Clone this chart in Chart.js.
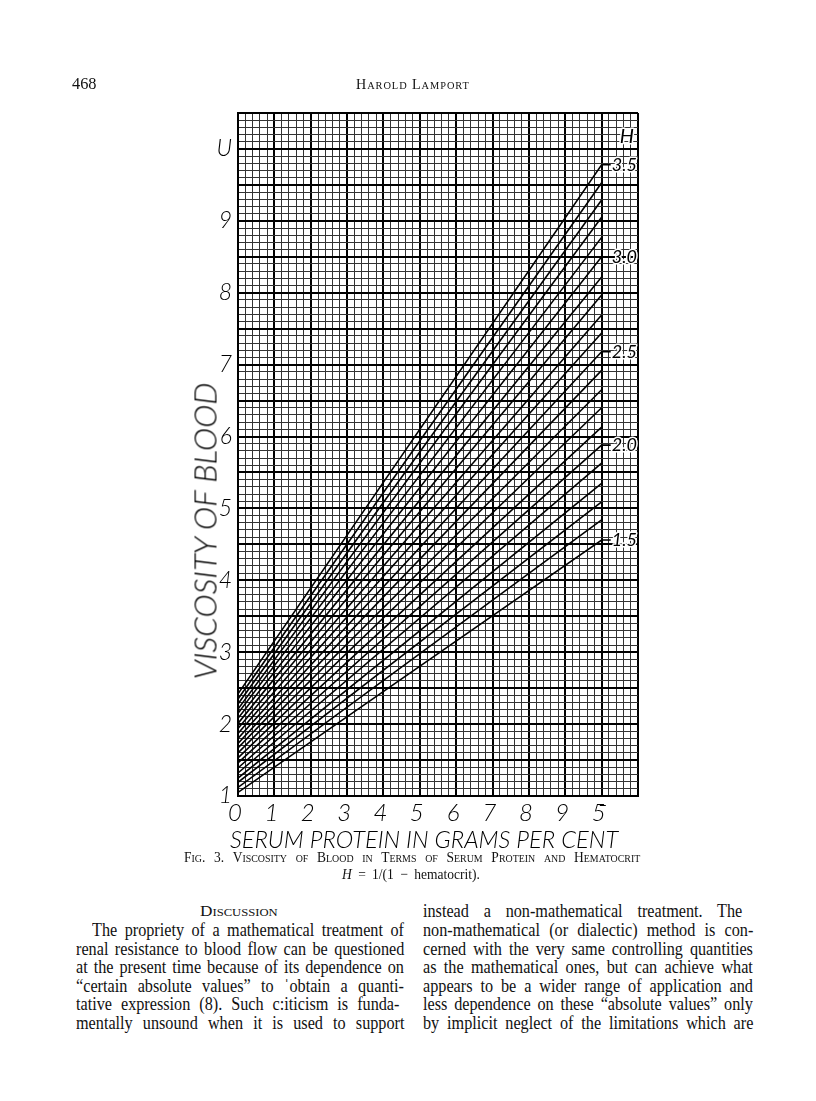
<!DOCTYPE html>
<html><head><meta charset="utf-8">
<script src="https://cdn.jsdelivr.net/npm/chart.js@4.4.0/dist/chart.umd.min.js"></script>
<style>
html,body{margin:0;padding:0;background:#fff;}
body{width:816px;height:1101px;position:relative;overflow:hidden;font-family:"Liberation Serif","DejaVu Serif",serif;color:#111;}
#wrap{position:absolute;left:0;top:0;width:816px;height:860px;}
.t{position:absolute;white-space:nowrap;line-height:20px;height:20px;}
.t span{display:inline-block;transform-origin:0 50%;}
.sc{font-variant:small-caps;}
.ttl{position:absolute;white-space:nowrap;font-family:Lato,"Liberation Sans",sans-serif;font-weight:300;font-style:italic;color:#000;line-height:1;}
</style></head><body>
<div id="wrap"><canvas id="c" width="816" height="860"></canvas></div>

<div class="t" data-x="72" data-y="84" data-w="25" style="font-size:17px"><span>468</span></div>
<div class="t sc" data-x="356" data-y="84" data-w="114" style="font-size:15px;letter-spacing:1px"><span>Harold Lamport</span></div>

<div id="ytitle" class="ttl" style="font-size:31px">VISCOSITY OF BLOOD</div>
<div id="xtitle" class="ttl" style="font-size:24px">SERUM PROTEIN IN GRAMS PER CENT</div>

<div class="t sc" data-x="184" data-y="857" data-w="462" data-c="0.9" style="font-size:15px"><span>Fig. 3.  Viscosity of Blood in Terms of Serum Protein and Hematocrit</span></div>
<div class="t" data-x="342" data-y="874" data-w="138" data-c="0.9" style="font-size:15px"><span><i>H</i> = 1/(1 − hematocrit).</span></div>

<div class="t sc" data-x="200" data-y="911" data-w="78" style="font-size:15px"><span>Discussion</span></div>
<div class="t" data-x="92" data-y="930" data-w="312" data-c="0.9" style="font-size:18px"><span>The propriety of a mathematical treatment of</span></div>
<div class="t" data-x="76" data-y="949" data-w="328" data-c="0.9" style="font-size:18px"><span>renal resistance to blood flow can be questioned</span></div>
<div class="t" data-x="76" data-y="967" data-w="328" data-c="0.9" style="font-size:18px"><span>at the present time because of its dependence on</span></div>
<div class="t" data-x="76" data-y="986" data-w="328" data-c="0.9" style="font-size:18px"><span>“certain absolute values” to ˈobtain a quanti-</span></div>
<div class="t" data-x="76" data-y="1004" data-w="328" data-c="0.9" style="font-size:18px"><span>tative expression (8).  Such c:iticism is funda-</span></div>
<div class="t" data-x="76" data-y="1023" data-w="328" data-c="0.9" style="font-size:18px"><span>mentally unsound when it is used to support</span></div>

<div class="t" data-x="423" data-y="911" data-w="330" data-c="0.9" style="font-size:18px"><span>instead a non-mathematical treatment.  The</span></div>
<div class="t" data-x="423" data-y="930" data-w="330" data-c="0.9" style="font-size:18px"><span>non-mathematical (or dialectic) method is con-</span></div>
<div class="t" data-x="423" data-y="949" data-w="330" data-c="0.9" style="font-size:18px"><span>cerned with the very same controlling quantities</span></div>
<div class="t" data-x="423" data-y="967" data-w="330" data-c="0.9" style="font-size:18px"><span>as the mathematical ones, but can achieve what</span></div>
<div class="t" data-x="423" data-y="986" data-w="330" data-c="0.9" style="font-size:18px"><span>appears to be a wider range of application and</span></div>
<div class="t" data-x="423" data-y="1004" data-w="330" data-c="0.9" style="font-size:18px"><span>less dependence on these “absolute values” only</span></div>
<div class="t" data-x="423" data-y="1023" data-w="330" data-c="0.9" style="font-size:18px"><span>by implicit neglect of the limitations which are</span></div>

<script>
// ---- data ----
const hematocritH = [1.5,1.6,1.7,1.8,1.9,2.0,2.1,2.2,2.3,2.4,2.5,2.6,2.7,2.8,2.9,3.0,3.1,3.2,3.3,3.4,3.5];
const viscAtZeroProtein = [1.05,1.12,1.19,1.25,1.32,1.39,1.46,1.53,1.60,1.67,1.73,1.80,1.87,1.94,2.01,2.08,2.15,2.21,2.28,2.35,2.42];
const viscAtTenProtein  = [4.56,4.84,5.09,5.35,5.63,5.88,6.13,6.40,6.65,6.92,7.18,7.44,7.69,7.97,8.22,8.50,8.77,9.05,9.29,9.53,9.78];
const labeledH = [1.5,2.0,2.5,3.0,3.5];
const labeledText = ['1.5','2.0','2.5','3.0','3.5'];
const xTickLabels = ['0','1','2','3','4','5','6','7','8','9','5\u0304'];
const yTickLabels = ['1','2','3','4','5','6','7','8','9','U'];
const proteinStart = 0, proteinEnd = 10, leaderEnd = 10.25;
const xMin = 0, xMax = 11, xStep = 0.2;
const yMin = 1, yMax = 10.5, yStep = 0.1;
const hLabelPos = {x: 10.5, y: 10.17};

// ---- text layout ----
document.querySelectorAll('.t').forEach(el => {
  const cx = +el.dataset.x, cy = +el.dataset.y, target = +el.dataset.w;
  let c = el.dataset.c ? +el.dataset.c : 1;
  el.style.left = cx + 'px';
  el.style.top = (cy - 10) + 'px';
  const span = el.firstElementChild;
  const w0 = span.offsetWidth;
  const spaces = (span.textContent.match(/ /g) || []).length;
  if (w0 * c > target || spaces === 0) {
    c = target / w0;
  } else {
    span.style.wordSpacing = ((target - w0 * c) / (spaces * c)) + 'px';
  }
  span.style.transform = 'scaleX(' + c + ')';
});
function placeTitle(id, cx, cy, width, rot) {
  const el = document.getElementById(id);
  const w0 = el.offsetWidth;
  el.style.left = cx + 'px';
  el.style.top = cy + 'px';
  el.style.transform = 'translate(-50%,-50%) rotate(' + rot + 'deg) scaleX(' + (width / w0) + ')';
}
placeTitle('ytitle', 205, 531, 297, -90);
placeTitle('xtitle', 424, 839, 388, 0);

// ---- chart ----
const isOn = (v, step) => Math.abs(v / step - Math.round(v / step)) < 1e-6;
const datasets = hematocritH.map((h, i) => {
  const pts = [{x: proteinStart, y: viscAtZeroProtein[i]}, {x: proteinEnd, y: viscAtTenProtein[i]}];
  if (labeledH.some(v => Math.abs(v - h) < 1e-9)) pts.push({x: leaderEnd, y: viscAtTenProtein[i]});
  return {label: 'H = ' + h.toFixed(1), data: pts, showLine: true, borderColor: '#000',
          borderWidth: 1.6, pointRadius: 0, tension: 0};
});
const handFont = 'Lato, "Liberation Sans", sans-serif';

const labelPlugin = {
  id: 'hlabels',
  afterDatasetsDraw(chart) {
    const {ctx, scales: {x, y}} = chart;
    ctx.save();
    ctx.font = 'italic 400 18px ' + handFont;
    ctx.textBaseline = 'middle';
    ctx.textAlign = 'left';
    ctx.lineJoin = 'round';
    labeledH.forEach((h, k) => {
      const i = hematocritH.findIndex(v => Math.abs(v - h) < 1e-9);
      const px = x.getPixelForValue(leaderEnd) + 1;
      const py = y.getPixelForValue(viscAtTenProtein[i]);
      ctx.strokeStyle = '#fff'; ctx.lineWidth = 3;
      ctx.strokeText(labeledText[k], px, py);
      ctx.fillStyle = '#000';
      ctx.fillText(labeledText[k], px, py);
    });
    ctx.font = 'italic 400 20px ' + handFont;
    const hx = x.getPixelForValue(hLabelPos.x), hy = y.getPixelForValue(hLabelPos.y);
    ctx.strokeStyle = '#fff'; ctx.lineWidth = 3;
    ctx.strokeText('H', hx, hy);
    ctx.fillStyle = '#000';
    ctx.fillText('H', hx, hy);
    ctx.restore();
  }
};

new Chart(document.getElementById('c'), {
  type: 'scatter',
  data: {datasets},
  plugins: [labelPlugin],
  options: {
    responsive: false,
    animation: false,
    devicePixelRatio: 1,
    events: [],
    layout: {padding: {left: 0, right: 178, top: 113, bottom: 24}},
    plugins: {legend: {display: false}, tooltip: {enabled: false}, title: {display: false}},
    scales: {
      x: {
        type: 'linear', min: xMin, max: xMax,
        afterFit: s => { s.height = 40; },
        border: {display: true, color: '#000', width: 2},
        grid: {
          drawTicks: false,
          lineWidth: c => isOn(c.tick.value, 1) ? 2 : 1,
          color: c => isOn(c.tick.value, 1) ? '#000' : '#333'
        },
        ticks: {
          stepSize: xStep, autoSkip: false, maxRotation: 0, minRotation: 0, padding: 5,
          color: '#000', labelOffset: -3,
          font: {family: handFont, style: 'italic', weight: 300, size: 24, lineHeight: 1},
          callback: v => { const k = Math.round(v); return (isOn(v, 1) && k >= 0 && k < xTickLabels.length) ? xTickLabels[k] : ''; }
        }
      },
      y: {
        type: 'linear', min: yMin, max: yMax,
        afterFit: s => { s.width = 238; },
        border: {display: true, color: '#000', width: 2},
        grid: {
          drawTicks: false,
          lineWidth: c => isOn(c.tick.value, 0.5) ? 2 : 1,
          color: c => isOn(c.tick.value, 0.5) ? '#000' : '#333'
        },
        ticks: {
          stepSize: yStep, autoSkip: false, padding: 6, color: '#000',
          font: {family: handFont, style: 'italic', weight: 300, size: 23, lineHeight: 1},
          callback: v => { const k = Math.round(v); return (isOn(v, 1) && k >= 1 && k <= yTickLabels.length) ? yTickLabels[k - 1] : ''; }
        }
      }
    }
  }
});
</script>
</body></html>
